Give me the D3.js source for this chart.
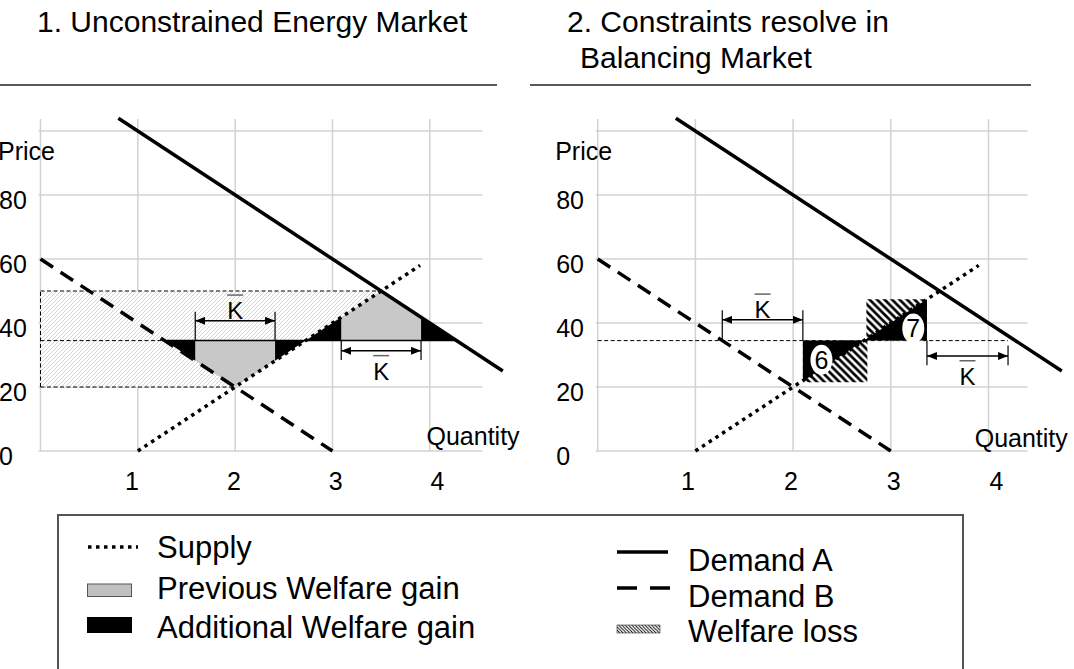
<!DOCTYPE html>
<html><head><meta charset="utf-8">
<script src="https://cdn.jsdelivr.net/npm/d3@7"></script>
<style>
body{margin:0;background:#fff}
svg{display:block}
text{font-family:"Liberation Sans",Arial,Helvetica,sans-serif;fill:#000}
</style>
</head><body>
<svg id="c" width="1074" height="669"></svg>
<script>
// ---------- data ----------
const priceGrid = [0, 20, 40, 60, 80, 100];
const priceLabels = [0, 20, 40, 60, 80];
const qtyGrid = [0, 1, 2, 3, 4];
const qtyLabels = [1, 2, 3, 4];

const demandA = [[0.8, 104], [4.75, 25]];
const demandB = [[0, 60], [3, 0]];
const supply = [[1, 0], [3.9, 58]];

// panel 1 areas
const p1Hatch = [
  [[0, 50], [3.5, 50], [2.725, 34.5], [0, 34.5]],
  [[0, 34.5], [1.275, 34.5], [2, 20], [0, 20]]
];
const p1Borders = [
  [[0, 50], [3.5, 50]],
  [[0, 20], [2, 20]],
  [[0, 20], [0, 50]],
  [[0, 34.5], [1.275, 34.5]]
];
const p1PrevGain = [
  [[1.59, 34.5], [1.59, 28.2], [2, 20], [2.41, 28.2], [2.41, 34.5]],
  [[3.09, 34.5], [3.09, 41.8], [3.5, 50], [3.91, 41.8], [3.91, 34.5]]
];
const p1AddGain = [
  [[1.275, 34.5], [1.59, 28.2], [1.59, 34.5]],
  [[2.41, 34.5], [2.41, 28.2], [2.725, 34.5]],
  [[2.725, 34.5], [3.09, 41.8], [3.09, 34.5]],
  [[3.91, 34.5], [3.91, 41.8], [4.275, 34.5]]
];
const p1PriceLine = [[1.275, 34.5], [4.275, 34.5]];
const p1K = [
  {q0: 1.59, q1: 2.41, p: 40.7, top0: 43.5, bot0: 34.5, top1: 43.5, bot1: 34.5, pos: "above"},
  {q0: 3.09, q1: 3.91, p: 31.3, top0: 34.5, bot0: 28.4, top1: 34.5, bot1: 28.4, pos: "below"}
];

// panel 2 areas
const p2Dashed = [[0, 34.5], [4.2, 34.5]];
const p2Loss = [
  [[2.1, 34.5], [2.76, 34.5], [2.76, 21.5], [2.1, 21.5]],
  [[2.75, 47.4], [3.37, 47.4], [3.37, 34.5], [2.75, 34.5]]
];
const p2AddGain = [
  [[2.1, 34.5], [2.1, 21.8], [2.725, 34.5]],
  [[2.725, 34.5], [3.37, 47.4], [3.37, 34.5]]
];
const p2Markers = [{q: 2.29, p: 28.5, label: "6"}, {q: 3.23, p: 38.3, label: "7"}];
const p2K = [
  {q0: 1.275, q1: 2.1, p: 41, top0: 44, bot0: 34.5, top1: 44, bot1: 34.5, pos: "above"},
  {q0: 3.37, q1: 4.2, p: 29.7, top0: 34.5, bot0: 26.8, top1: 33, bot1: 26.8, pos: "below"}
];

const titles = [
  {x: 37, lines: ["1. Unconstrained Energy Market"], dx: [0]},
  {x: 567, lines: ["2. Constraints resolve in", "Balancing Market"], dx: [0, 13]}
];

const legendLeft = [
  {label: "Supply", type: "dotted"},
  {label: "Previous Welfare gain", type: "gray"},
  {label: "Additional Welfare gain", type: "black"}
];
const legendRight = [
  {label: "Demand A", type: "solid"},
  {label: "Demand B", type: "dashed"},
  {label: "Welfare loss", type: "hatch"}
];

// ---------- layout ----------
const FONT = 25;
const panels = [
  {x0: 40.5, x4: 429.8, gridEnd: 4.54, labX1: 132, labX4: 437.5, qX: 386, qY: 445,
   ulX0: 0, ulX1: 497},
  {x0: 597.7, x4: 988.5, gridEnd: 4.4, labX1: 688, labX4: 996.5, qX: 377, qY: 446.7,
   ulX0: 530, ulX1: 1031}
];
const y = d3.scaleLinear().domain([0, 100]).range([451, 131]);

const svg = d3.select("#c");
const defs = svg.append("defs");

function hatchPattern(id, size, d, color, w) {
  const p = defs.append("pattern").attr("id", id).attr("patternUnits", "userSpaceOnUse")
    .attr("width", size).attr("height", size);
  p.append("rect").attr("width", size).attr("height", size).attr("fill", "#fff");
  p.append("path").attr("d", d).attr("stroke", color).attr("stroke-width", w).attr("fill", "none");
}
hatchPattern("lightHatch", 4, "M-1,1L1,-1M0,4L4,0M3,5L5,3", "#cacaca", 0.8);
hatchPattern("lossHatch", 7.5, "M-1,-1L8.5,8.5M-1,6.5L1,8.5M6.5,-1L8.5,1", "#000", 2.7);
hatchPattern("legHatch", 3.3, "M-0.5,-0.5L3.8,3.8M-0.5,2.8L0.5,3.8M2.8,-0.5L3.8,0.5", "#000", 0.9);

defs.append("marker").attr("id", "arr").attr("viewBox", "0 0 10 8")
  .attr("refX", 10).attr("refY", 4).attr("markerWidth", 10).attr("markerHeight", 8)
  .attr("markerUnits", "userSpaceOnUse").attr("orient", "auto-start-reverse")
  .append("path").attr("d", "M0,0L10,4L0,8Z").attr("fill", "#000");

// titles
titles.forEach((t, i) => {
  t.lines.forEach((ln, j) => {
    svg.append("text").attr("x", t.x + t.dx[j]).attr("y", 32 + j * 36)
      .attr("font-size", 30).text(ln);
  });
  svg.append("line").attr("x1", panels[i].ulX0).attr("x2", panels[i].ulX1)
    .attr("y1", 85).attr("y2", 85).attr("stroke", "#222").attr("stroke-width", 1.5);
});

function drawPanel(idx) {
  const P = panels[idx];
  const x = d3.scaleLinear().domain([0, 4]).range([P.x0, P.x4]);
  const xLab = d3.scaleLinear().domain([1, 4]).range([P.labX1, P.labX4]);
  const g = svg.append("g");
  const line = d3.line().x(d => x(d[0])).y(d => y(d[1]));
  const poly = pts => line(pts) + "Z";

  // grid
  g.selectAll(".vg").data(qtyGrid).join("line")
    .attr("x1", d => x(d)).attr("x2", d => x(d)).attr("y1", y(100) - 12).attr("y2", y(0))
    .attr("stroke", "#d2d2d2").attr("stroke-width", 1.5);
  g.selectAll(".hg").data(priceGrid).join("line")
    .attr("x1", x(0) - 2).attr("x2", x(P.gridEnd)).attr("y1", d => y(d)).attr("y2", d => y(d))
    .attr("stroke", "#d2d2d2").attr("stroke-width", 1.5);

  // axis labels
  g.selectAll(".yl").data(priceLabels).join("text")
    .attr("x", x(0) - 41.5).attr("y", d => y(d) + 14).attr("font-size", FONT).text(d => d);
  g.selectAll(".xl").data(qtyLabels).join("text")
    .attr("x", d => xLab(d)).attr("y", 490).attr("text-anchor", "middle")
    .attr("font-size", FONT).text(d => d);
  g.append("text").attr("x", x(0) - 42.5).attr("y", 160).attr("font-size", FONT).text("Price");
  g.append("text").attr("x", x(0) + P.qX).attr("y", P.qY).attr("font-size", FONT).text("Quantity");

  if (idx === 0) {
    g.selectAll(".hatch").data(p1Hatch).join("path").attr("d", poly)
      .attr("fill", "url(#lightHatch)");
    g.selectAll(".bord").data(p1Borders).join("path").attr("d", line)
      .attr("fill", "none").attr("stroke", "#000").attr("stroke-width", 1).attr("stroke-dasharray", "4 2.5");
    g.selectAll(".prev").data(p1PrevGain).join("path").attr("d", poly).attr("fill", "#c8c8c8");
    g.selectAll(".add").data(p1AddGain).join("path").attr("d", poly).attr("fill", "#000");
    g.append("path").attr("d", line(p1PriceLine)).attr("stroke", "#000").attr("stroke-width", 1.5);
  } else {
    g.append("path").attr("d", line(p2Dashed)).attr("fill", "none").attr("stroke", "#000")
      .attr("stroke-width", 1).attr("stroke-dasharray", "4 2.5");
    g.selectAll(".loss").data(p2Loss).join("path").attr("d", poly).attr("fill", "url(#lossHatch)");
    g.selectAll(".add").data(p2AddGain).join("path").attr("d", poly).attr("fill", "#000");
  }

  // curves
  g.append("path").attr("d", line(supply)).attr("fill", "none").attr("stroke", "#000")
    .attr("stroke-width", 3.5).attr("stroke-dasharray", "3.5 4.5");
  g.append("path").attr("d", line(demandB)).attr("fill", "none").attr("stroke", "#000")
    .attr("stroke-width", 3.5).attr("stroke-dasharray", "15 9");
  g.append("path").attr("d", line(demandA)).attr("fill", "none").attr("stroke", "#000")
    .attr("stroke-width", 3.5);

  // K bars
  const ks = idx === 0 ? p1K : p2K;
  ks.forEach(k => {
    g.append("line").attr("x1", x(k.q0)).attr("x2", x(k.q0)).attr("y1", y(k.top0)).attr("y2", y(k.bot0))
      .attr("stroke", "#000").attr("stroke-width", 1.2);
    g.append("line").attr("x1", x(k.q1)).attr("x2", x(k.q1)).attr("y1", y(k.top1)).attr("y2", y(k.bot1))
      .attr("stroke", "#000").attr("stroke-width", 1.2);
    g.append("line").attr("x1", x(k.q0)).attr("x2", x(k.q1)).attr("y1", y(k.p)).attr("y2", y(k.p))
      .attr("stroke", "#000").attr("stroke-width", 1.5)
      .attr("marker-start", "url(#arr)").attr("marker-end", "url(#arr)");
    const cx = (x(k.q0) + x(k.q1)) / 2;
    const base = k.pos === "above" ? y(k.p) - 1.5 : y(k.p) + 29;
    g.append("text").attr("x", cx).attr("y", base).attr("text-anchor", "middle")
      .attr("font-size", 24).text("K");
    const top = base - 17.2;
    g.append("line").attr("x1", cx - 8).attr("x2", cx + 8).attr("y1", top - 7).attr("y2", top - 7)
      .attr("stroke", "#666").attr("stroke-width", 1.5);
  });

  if (idx === 1) {
    p2Markers.forEach(m => {
      g.append("ellipse").attr("cx", x(m.q)).attr("cy", y(m.p)).attr("rx", 11).attr("ry", 15)
        .attr("fill", "#fff");
      g.append("text").attr("x", x(m.q)).attr("y", y(m.p) + 9).attr("text-anchor", "middle")
        .attr("font-size", FONT).text(m.label);
    });
  }
}
drawPanel(0);
drawPanel(1);

// legend
const lg = svg.append("g");
lg.append("rect").attr("x", 58).attr("y", 515).attr("width", 905).attr("height", 200)
  .attr("fill", "none").attr("stroke", "#555").attr("stroke-width", 2);
const LF = 31;
legendLeft.forEach((it, i) => {
  const by = [558, 599, 638][i];
  lg.append("text").attr("x", 157).attr("y", by).attr("font-size", LF).text(it.label);
  if (it.type === "dotted") {
    lg.append("line").attr("x1", 88).attr("x2", 138).attr("y1", by - 11).attr("y2", by - 11)
      .attr("stroke", "#000").attr("stroke-width", 3.5).attr("stroke-dasharray", "3.5 4.5");
  } else if (it.type === "gray") {
    lg.append("rect").attr("x", 87.5).attr("y", by - 15).attr("width", 44).attr("height", 12.5)
      .attr("fill", "#c0c0c0").attr("stroke", "#555").attr("stroke-width", 1);
  } else {
    lg.append("rect").attr("x", 87).attr("y", by - 21).attr("width", 45).attr("height", 16)
      .attr("fill", "#000");
  }
});
legendRight.forEach((it, i) => {
  const by = [571, 607, 642][i];
  lg.append("text").attr("x", 688).attr("y", by).attr("font-size", LF).text(it.label);
  if (it.type === "solid") {
    lg.append("line").attr("x1", 617).attr("x2", 668).attr("y1", by - 19).attr("y2", by - 19)
      .attr("stroke", "#000").attr("stroke-width", 3.5);
  } else if (it.type === "dashed") {
    lg.append("line").attr("x1", 617).attr("x2", 670).attr("y1", by - 19).attr("y2", by - 19)
      .attr("stroke", "#000").attr("stroke-width", 3.5).attr("stroke-dasharray", "20 13");
  } else {
    lg.append("rect").attr("x", 617).attr("y", by - 17).attr("width", 43).attr("height", 8)
      .attr("fill", "url(#legHatch)").attr("stroke", "#333").attr("stroke-width", 0.6);
  }
});
</script>
</body></html>
